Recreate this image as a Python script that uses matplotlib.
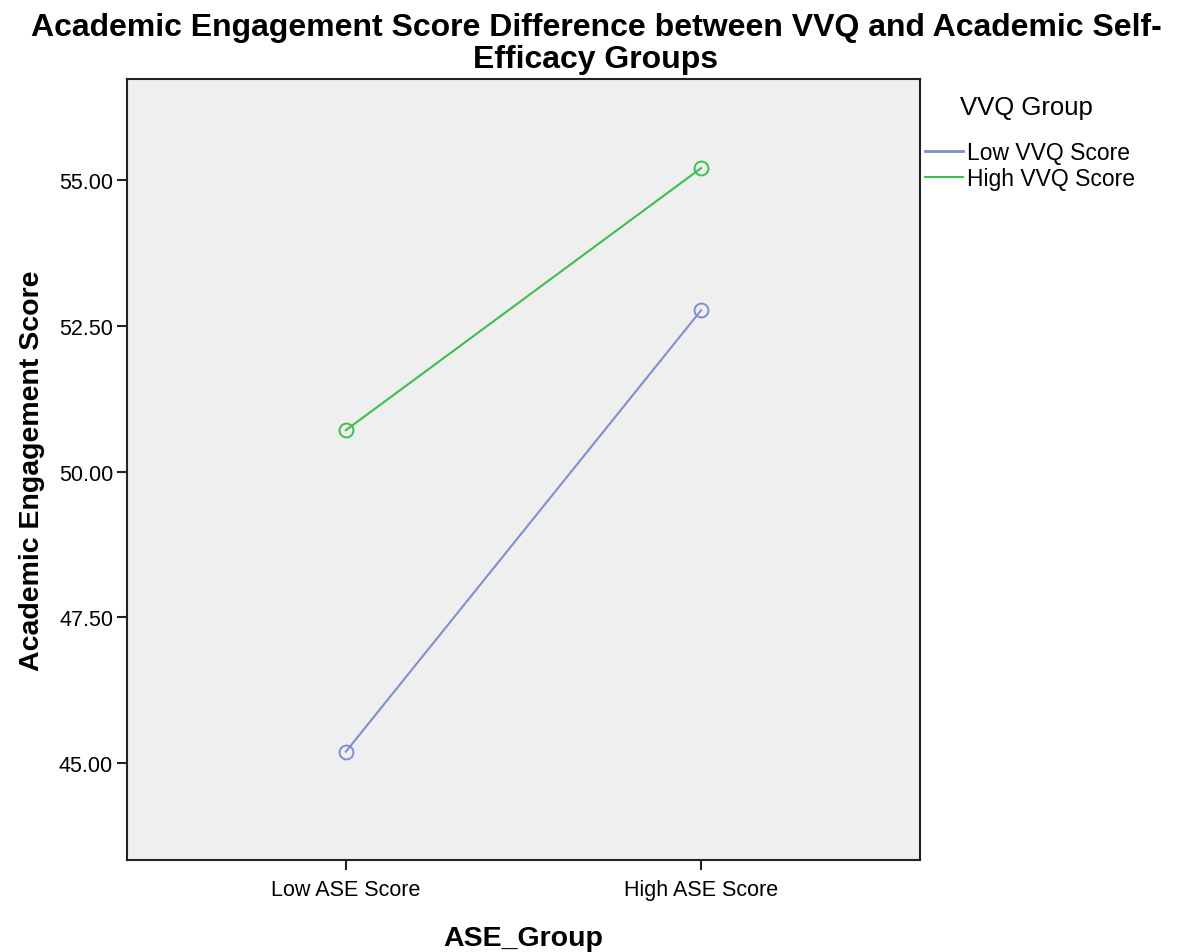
import matplotlib
matplotlib.use("Agg")
import matplotlib.pyplot as plt
from matplotlib.lines import Line2D

categories = ["Low ASE Score", "High ASE Score"]
series_names = ["Low VVQ Score", "High VVQ Score"]
low_vvq = [45.19, 52.77]
high_vvq = [50.71, 55.21]
yticks = [45.0, 47.5, 50.0, 52.5, 55.0]

colors = ["#7f8fcf", "#3dbf4a"]
FONT = "Liberation Sans"

fig = plt.figure(figsize=(11.83, 9.53), dpi=100)
W, H = 1183, 953
ax = fig.add_axes([127 / W, 1 - 861 / H, (920 - 127) / W, (861 - 80) / H])
ax.set_facecolor("#efefef")

x = list(range(len(categories)))
for vals, name, c in zip([low_vvq, high_vvq], series_names, colors):
    ax.plot(x, vals, color=c, lw=1.5, marker="o", markersize=10,
            markerfacecolor="none", markeredgecolor=c, markeredgewidth=1.4, label=name)

ax.set_xlim(-0.616, 1.616)
ax.set_ylim(43.33, 56.74)
ax.set_xticks(x)
ax.set_xticklabels(categories, fontsize=15.5, family=FONT)
ax.set_yticks(yticks)
ax.set_yticklabels([f"{v:.2f}" for v in yticks], fontsize=15.5, family=FONT)
ax.tick_params(direction="out", length=7, width=1.5, color="#222222", pad=3)
ax.tick_params(axis="x", pad=7)
for s in ax.spines.values():
    s.set_linewidth(1.5)
    s.set_color("#222222")

ax.set_xlabel("ASE_Group", fontsize=20.5, fontweight="bold", family=FONT, labelpad=18)
ax.set_ylabel("Academic Engagement Score", fontsize=20.5, fontweight="bold", family=FONT, labelpad=10)
fig.text((20 + 1172) / 2 / W, 1 - 44 / H,
         "Academic Engagement Score Difference between VVQ and Academic Self-\nEfficacy Groups",
         ha="center", va="center", fontsize=23, fontweight="bold", family=FONT,
         linespacing=1.05)

hl = [Line2D([0], [0], color=c, lw=2 if i == 0 else 1.5) for i, c in enumerate(colors)]
leg = fig.legend(hl, series_names, loc="upper left", bbox_to_anchor=(925 / W, 1 - 142 / H),
                 frameon=False, handlelength=1.65, handletextpad=0.2, labelspacing=0.12,
                 borderaxespad=0, borderpad=0,
                 prop={"family": FONT, "size": 16.5})
fig.text(960 / W, 1 - 108 / H, "VVQ Group", ha="left", va="center",
         fontsize=18.5, family=FONT)

fig.savefig("out.png", dpi=100)
